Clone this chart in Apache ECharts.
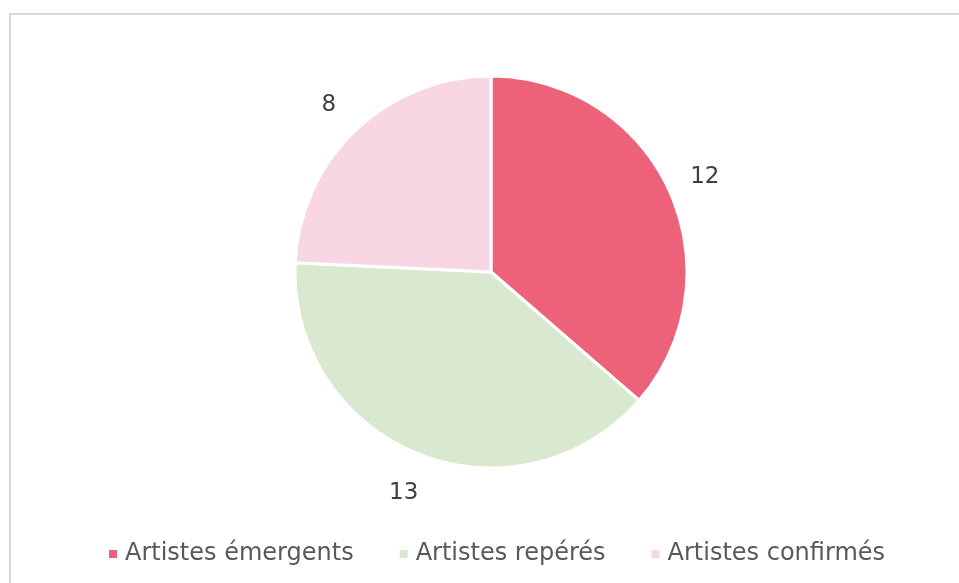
<!DOCTYPE html>
<html>
<head>
<meta charset="utf-8">
<script src="https://cdn.jsdelivr.net/npm/echarts@6/dist/echarts.min.js"></script>
<style>
html,body{margin:0;padding:0;background:#fff;}
#chart{width:959px;height:583px;}
</style>
</head>
<body>
<div id="chart"></div>
<script>
var categories = ['Artistes émergents', 'Artistes repérés', 'Artistes confirmés'];
var values = [12, 13, 8];
var colors = ['#EE6279', '#D9E9CF', '#F9D6E3'];

var chart = echarts.init(document.getElementById('chart'), null, {renderer: 'canvas'});
var font = '"DejaVu Sans", Verdana, sans-serif';

var pieData = categories.map(function (c, i) {
  return {name: c, value: values[i], itemStyle: {color: colors[i]}};
});
var labelData = categories.map(function (c, i) {
  return {name: c, value: values[i], itemStyle: {color: 'rgba(0,0,0,0)'}};
});

chart.setOption({
  animation: false,
  backgroundColor: '#fff',
  graphic: [{
    type: 'rect',
    shape: {x: 10, y: 14, width: 960, height: 580},
    style: {fill: 'none', stroke: '#D9D9D9', lineWidth: 2},
    silent: true,
    z: -1
  }],
  legend: {
    bottom: 12,
    left: 104,
    icon: 'rect',
    itemWidth: 8,
    itemHeight: 8,
    itemGap: 46,
    itemStyle: {borderWidth: 0},
    data: categories.map(function (c, i) {
      return {name: c, itemStyle: {color: colors[i], borderWidth: 0}};
    }),
    textStyle: {fontFamily: font, fontSize: 24, color: '#595959', padding: [0, 0, 0, 3]}
  },
  series: [{
    type: 'pie',
    center: [491, 272],
    radius: [0, 196],
    startAngle: 90,
    clockwise: true,
    label: {show: false},
    labelLine: {show: false},
    itemStyle: {borderColor: '#fff', borderWidth: 3},
    emphasis: {disabled: true},
    data: pieData
  }, {
    type: 'pie',
    center: [491, 272],
    radius: [220, 244],
    startAngle: 90,
    clockwise: true,
    silent: true,
    label: {show: true, position: 'inside', formatter: '{c}', fontFamily: font, fontSize: 23, color: '#404040', offset: [0, 3]},
    labelLine: {show: false},
    emphasis: {disabled: true},
    data: labelData
  }]
});
</script>
</body>
</html>
